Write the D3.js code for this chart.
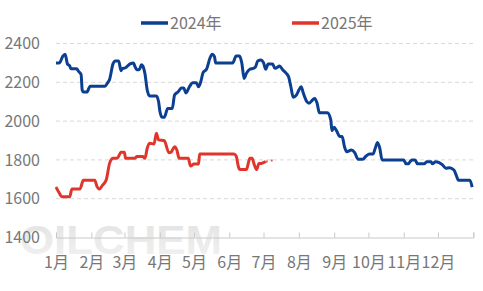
<!DOCTYPE html>
<html>
<head>
<meta charset="utf-8">
<script src="https://cdn.jsdelivr.net/npm/d3@7"></script>
<style>
  html, body { margin: 0; padding: 0; background: #fff; }
  svg { display: block; font-family: "Noto Sans CJK SC", "Noto Sans", sans-serif; }
</style>
</head>
<body>
<svg id="chart"></svg>
<script>
// series (month-day, value)
const dates2024 = ["01-01","01-04","01-07","01-09","01-11","01-13","01-14","01-19","01-21","01-23","01-24","01-25","01-28","01-31",
  "02-13","02-15","02-17","02-20","02-22","02-25","02-27","02-28","03-02","03-06","03-09","03-10","03-12","03-14","03-16","03-17",
  "03-19","03-21","03-23","03-29","03-31","04-01","04-03","04-05","04-08","04-12","04-14","04-17","04-20","04-22","04-24","04-27",
  "04-30","05-03","05-05","05-07","05-09","05-12","05-15","05-17","05-19","05-20","06-04","06-07","06-10","06-12","06-14","06-16",
  "06-19","06-22","06-24","06-26","06-29","07-01","07-03","07-05","07-09","07-11","07-13","07-15","07-18","07-21","07-23","07-25",
  "07-27","07-30","08-01","08-03","08-05","08-08","08-10","08-13","08-15","08-17","08-19","08-26","08-29","08-30","09-01","09-03",
  "09-06","09-08","09-10","09-12","09-16","09-19","09-22","09-26","09-29","10-02","10-05","10-07","10-09","10-11","10-13","11-01",
  "11-03","11-05","11-08","11-11","11-13","11-19","11-21","11-25","11-26","11-29","12-02","12-05","12-08","12-11","12-15","12-17",
  "12-19","12-29","12-31"];
const values2024 = [2300,2300,2335,2345,2295,2285,2270,2270,2255,2240,2160,2150,2150,2180,
  2180,2195,2215,2295,2310,2310,2260,2270,2275,2295,2300,2285,2265,2265,2290,2285,
  2245,2160,2130,2130,2100,2055,2020,2020,2065,2065,2135,2150,2170,2170,2145,2177,
  2198,2198,2177,2203,2250,2267,2324,2345,2332,2300,2300,2335,2335,2298,2220,2246,
  2267,2272,2280,2311,2315,2301,2267,2294,2294,2272,2277,2284,2263,2246,2229,2177,
  2123,2135,2160,2177,2143,2100,2092,2109,2117,2092,2043,2043,2006,1951,1968,1951,
  1920,1920,1868,1842,1851,1837,1803,1803,1820,1830,1830,1860,1890,1860,1800,1800,
  1780,1780,1800,1800,1780,1780,1790,1790,1780,1790,1786,1774,1757,1760,1748,1722,
  1695,1695,1660];

const dates2025 = ["01-01","01-04","01-06","01-13","01-15","01-22","01-25","02-04","02-06","02-08","02-11","02-14","02-17","02-20",
  "02-24","02-27","03-01","03-02","03-10","03-12","03-17","03-19","03-21","03-23","03-27","03-29","03-31","04-05","04-09","04-11",
  "04-14","04-16","04-18","04-26","04-28","05-01","05-05","05-06","05-08","06-05","06-07","06-09","06-10","06-16","06-18","06-19",
  "06-21","06-23","06-25","06-27","06-29","07-01","07-03"];
const values2025 = [1660,1628,1610,1610,1650,1650,1695,1695,1662,1650,1671,1696,1782,1808,
  1810,1840,1840,1808,1808,1817,1817,1808,1860,1886,1882,1937,1903,1899,1837,1840,
  1868,1851,1808,1808,1768,1779,1779,1830,1830,1830,1820,1765,1750,1750,1791,1808,
  1808,1774,1750,1782,1782,1786,1791];
// faint dotted tail at the end of 2025
const tailDates2025 = ["07-03","07-07","07-10"];
const tailValues2025 = [1791,1795,1800];

const seriesNames = ["2024年", "2025年"];
const seriesColors = ["#0a3f92", "#e0352b"];
const yTicks = [1400, 1600, 1800, 2000, 2200, 2400];
const monthLabels = ["1月","2月","3月","4月","5月","6月","7月","8月","9月","10月","11月","12月"];

const width = 483, height = 291;
const parse = d3.timeParse("%Y-%m-%d");
const toDate = (md) => parse("2024-" + md);

const svg = d3.select("#chart").attr("width", width).attr("height", height);

const x = d3.scaleTime()
  .domain([new Date(2024, 0, 1), new Date(2025, 0, 1)])
  .range([56, 473.3]);
const y = d3.scaleLinear().domain([1400, 2400]).range([237.5, 43.5]);

// watermark
const grad = svg.append("defs").append("linearGradient")
  .attr("id", "wm").attr("x1", 0).attr("y1", 0).attr("x2", 0).attr("y2", 1);
grad.append("stop").attr("offset", "0%").attr("stop-color", "#e2e2e2");
grad.append("stop").attr("offset", "100%").attr("stop-color", "#f2f2f2");
svg.append("text")
  .attr("x", 20).attr("y", 254)
  .attr("textLength", 202).attr("lengthAdjust", "spacingAndGlyphs")
  .attr("font-family", "Liberation Sans, Arial, sans-serif")
  .attr("font-weight", "bold")
  .attr("font-size", 40)
  .attr("fill", "url(#wm)")
  .text("OILCHEM");

// grid
svg.append("g")
  .selectAll("line")
  .data(yTicks.filter(d => d > 1400))
  .join("line")
  .attr("x1", x.range()[0]).attr("x2", x.range()[1])
  .attr("y1", d => y(d)).attr("y2", d => y(d))
  .attr("stroke", "#d9d9d9")
  .attr("stroke-dasharray", "4,3");

// y axis
const yAxis = svg.append("g")
  .attr("transform", `translate(${x.range()[0]},0)`)
  .call(d3.axisLeft(y).tickValues(yTicks).tickFormat(d3.format("d")).tickSize(0).tickPadding(16));
yAxis.select(".domain").remove();
yAxis.selectAll("text").attr("font-size", 16).attr("fill", "#777")
  .attr("font-family", "Noto Sans CJK SC, sans-serif");

// x axis
const monthTicks = d3.range(13).map(i => new Date(2024, i, 1));
const xAxis = svg.append("g")
  .attr("transform", `translate(0,${y(1400)})`)
  .call(d3.axisBottom(x)
    .tickValues(monthTicks)
    .tickSize(-5)
    .tickPadding(19)
    .tickFormat((d, i) => monthLabels[i] || ""));
xAxis.select(".domain").attr("stroke", "#c8c8c8");
xAxis.selectAll(".tick line").attr("stroke", "#c8c8c8");
xAxis.selectAll("text").attr("font-size", 16).attr("fill", "#777")
  .attr("font-family", "Noto Sans CJK SC, sans-serif");

// lines
const line = d3.line()
  .x(d => x(d.date))
  .y(d => y(d.value))
  .curve(d3.curveMonotoneX);

const s2024 = dates2024.map((d, i) => ({ date: toDate(d), value: values2024[i] }));
const s2025 = dates2025.map((d, i) => ({ date: toDate(d), value: values2025[i] }));
const tail = tailDates2025.map((d, i) => ({ date: toDate(d), value: tailValues2025[i] }));

svg.append("path")
  .datum(s2024)
  .attr("fill", "none")
  .attr("stroke", seriesColors[0])
  .attr("stroke-width", 3)
  .attr("stroke-linejoin", "round")
  .attr("d", line);

svg.append("path")
  .datum(s2025)
  .attr("fill", "none")
  .attr("stroke", seriesColors[1])
  .attr("stroke-width", 3)
  .attr("stroke-linejoin", "round")
  .attr("d", line);

svg.append("path")
  .datum(tail)
  .attr("fill", "none")
  .attr("stroke", seriesColors[1])
  .attr("stroke-width", 2)
  .attr("stroke-dasharray", "2,3")
  .attr("opacity", 0.8)
  .attr("d", line);

// legend
const legendX = [141, 292];
const legend = svg.append("g")
  .selectAll("g")
  .data(seriesNames)
  .join("g")
  .attr("transform", (d, i) => `translate(${legendX[i]},23)`);
legend.append("line")
  .attr("x1", 0).attr("x2", 27)
  .attr("stroke", (d, i) => seriesColors[i])
  .attr("stroke-width", 3.5);
legend.append("text")
  .attr("x", 29).attr("dy", "0.36em")
  .attr("font-size", 16)
  .attr("fill", "#777")
  .text(d => d);
</script>
</body>
</html>
